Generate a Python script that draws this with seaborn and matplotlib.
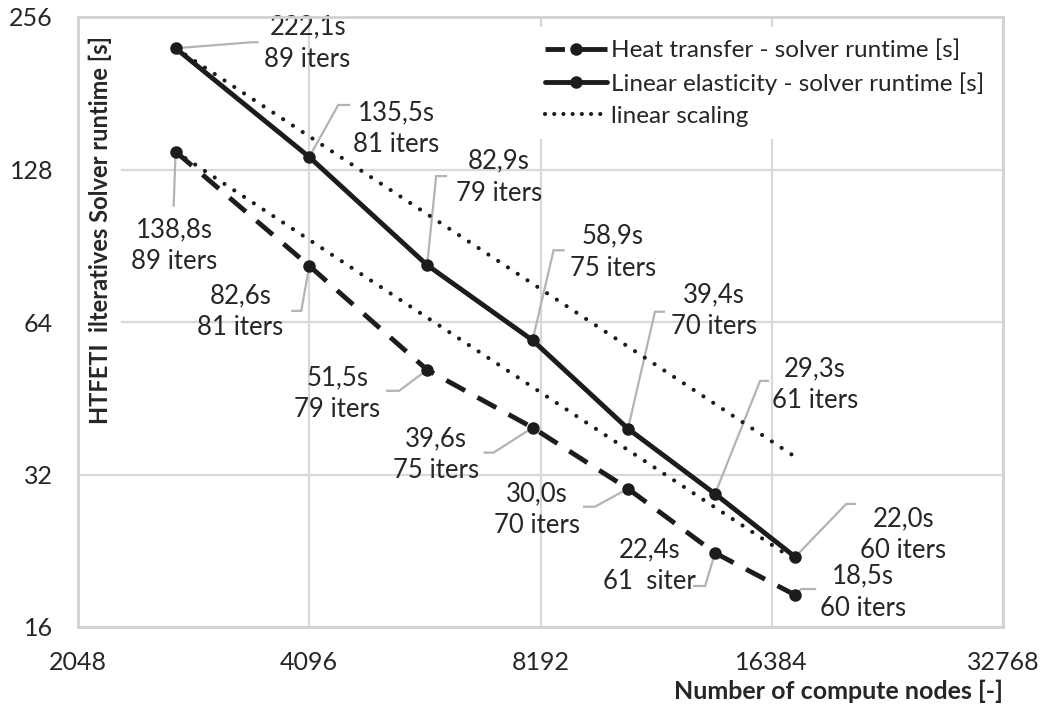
import matplotlib
matplotlib.use("Agg")
import matplotlib.pyplot as plt
from matplotlib.lines import Line2D
import numpy as np
import pandas as pd
import seaborn as sns

# ---- data -------------------------------------------------------------
nodes = [2744, 4096, 5832, 8000, 10648, 13824, 17576]

heat_runtime = [138.8, 82.6, 51.5, 39.6, 30.0, 22.4, 18.5]
heat_iters = ["89 iters", "81 iters", "79 iters", "75 iters", "70 iters", "61  siter", "60 iters"]

elast_runtime = [222.1, 135.5, 82.9, 58.9, 39.4, 29.3, 22.0]
elast_iters = ["89 iters", "81 iters", "79 iters", "75 iters", "70 iters", "61 iters", "60 iters"]

x_ticks = [2048, 4096, 8192, 16384, 32768]
y_ticks = [16, 32, 64, 128, 256]

series_names = ["Heat transfer - solver runtime [s]",
                "Linear elasticity - solver runtime [s]",
                "linear scaling"]

# ideal (linear) scaling from the smallest run of each problem
nodes_arr = np.array(nodes, dtype=float)
heat_ideal = heat_runtime[0] * nodes_arr[0] / nodes_arr
elast_ideal = elast_runtime[0] * nodes_arr[0] / nodes_arr

df = pd.DataFrame({
    "nodes": nodes * 4,
    "runtime": list(heat_runtime) + list(elast_runtime) + list(heat_ideal) + list(elast_ideal),
    "curve": ["heat"] * 7 + ["elast"] * 7 + ["heat_ideal"] * 7 + ["elast_ideal"] * 7,
})

# ---- style ------------------------------------------------------------
sns.set_style("white")
plt.rcParams["font.family"] = ["Lato", "DejaVu Sans"]
TXT = "#262626"
INK = "#1c1c1c"
GRID = "#d9d9d9"
LEAD = "#b3b3b3"

fig = plt.figure(figsize=(10.46, 7.10), dpi=100)
W, H = 1046, 710
L, R, T, B = 78, 1003, 17, 627
ax = fig.add_axes([L / W, (H - B) / H, (R - L) / W, (B - T) / H])

ax.set_xscale("log", base=2)
ax.set_yscale("log", base=2)
ax.set_xlim(x_ticks[0], x_ticks[-1])
ax.set_ylim(y_ticks[0], y_ticks[-1])

ax.grid(True, color=GRID, lw=1.6, zorder=0)
ax.set_axisbelow(True)
for s in ax.spines.values():
    s.set_color("#d2d2d2")
    s.set_linewidth(2)
    s.set_zorder(8)

# ---- curves -----------------------------------------------------------
dotted = dict(color=INK, lw=3.0, linestyle=(0, (0.01, 2.8)),
              dash_capstyle="round", zorder=3)
sns.lineplot(data=df[df.curve == "elast_ideal"], x="nodes", y="runtime",
             ax=ax, estimator=None, sort=False, legend=False, **dotted)
sns.lineplot(data=df[df.curve == "heat_ideal"], x="nodes", y="runtime",
             ax=ax, estimator=None, sort=False, legend=False, **dotted)
sns.lineplot(data=df[df.curve == "heat"], x="nodes", y="runtime", ax=ax,
             estimator=None, sort=False, legend=False, color=INK, lw=3.5,
             linestyle=(0, (4.4, 2.9)), marker="o", markersize=9,
             markeredgewidth=0, zorder=4)
sns.lineplot(data=df[df.curve == "elast"], x="nodes", y="runtime", ax=ax,
             estimator=None, sort=False, legend=False, color=INK, lw=3.5,
             marker="o", markersize=9, markeredgewidth=0, zorder=4)

# ---- axes text --------------------------------------------------------
ax.set_xticks(x_ticks)
ax.set_xticklabels([str(v) for v in x_ticks])
ax.set_yticks(y_ticks)
ax.set_yticklabels([str(v) for v in y_ticks])
ax.minorticks_off()
ax.tick_params(axis="both", length=0, labelsize=18, labelcolor=TXT)
ax.tick_params(axis="x", pad=17)
ax.tick_params(axis="y", pad=18)

ax.set_ylabel("")
ax.set_xlabel("Number of compute nodes [-]", loc="right", fontsize=18,
              fontweight="bold", color=TXT, labelpad=4)
ax.text(0.0238, 0.651, "HTFETI  ilteratives Solver runtime [s]", transform=ax.transAxes,
        rotation=90, ha="center", va="center", fontsize=17, fontweight="bold",
        color=TXT, zorder=6,
        bbox=dict(fc="white", ec="none", boxstyle="square,pad=0.4"))

# ---- legend -----------------------------------------------------------
handles = [
    Line2D([], [], color=INK, lw=3.5, linestyle=(0, (4.0, 2.6, 30, 1)), marker="o",
           markersize=9, markeredgewidth=0),
    Line2D([], [], color=INK, lw=3.5, marker="o", markersize=9, markeredgewidth=0),
    Line2D([], [], color=INK, lw=3.0, linestyle=(0, (0.01, 2.2)), dash_capstyle="round"),
]
leg = ax.legend(handles, series_names, loc="upper left",
                bbox_to_anchor=(0.479, 1.003), frameon=True, fontsize=17.5,
                handlelength=2.55, handletextpad=0.15, labelspacing=0.45,
                borderpad=0.5, fancybox=False)
leg.get_frame().set_facecolor("white")
leg.get_frame().set_edgecolor("none")
leg.get_frame().set_alpha(1)
leg.set_zorder(7)
for t in leg.get_texts():
    t.set_color(TXT)

# ---- value callouts ---------------------------------------------------
# (text centre offset, leader bend offset, horizontal hook) in pixels,
# measured right / down from each marker
elast_layout = [((132, -5), (76, -6), 7), ((87, -28), (29, -52), 12),
                ((72, -88), (9, -89), 11), ((80, -88), (21, -90), 11),
                ((86, -118), (27, -117), 10), ((100, -109), (45, -113), 9),
                ((108, -22), (51, -53), 10)]
heat_layout = [((-1, 94), (-2, 55), 0), ((-69, 46), (-8, 45), -10),
               ((-90, 24), (-28, 21), -13), ((-97, 27), (-39, 25), -10),
               ((-91, 21), (-33, 18), -12), ((-66, 13), (-10, 33), -12),
               ((68, -3), (6, -6), 15)]


def fmt(v):
    return f"{v:.1f}s".replace(".", ",")


def callouts(values, iters, layout):
    for x, y, it, ((tx, ty), (bx, by), hook) in zip(nodes, values, iters, layout):
        p = ax.transData.transform((x, y))
        verts = np.array([p, p + (bx, -by), p + (bx + hook, -by)])
        d = ax.transData.inverted().transform(verts)
        ax.plot(d[:, 0], d[:, 1], color=LEAD, lw=1.6, zorder=2,
                solid_capstyle="butt", solid_joinstyle="miter")
        ax.annotate(f"{fmt(y)}\n{it}", xy=(x, y), xytext=(tx, -ty),
                    textcoords="offset pixels", ha="center", va="center",
                    fontsize=18.5, color=TXT, linespacing=1.35, zorder=5)


callouts(elast_runtime, elast_iters, elast_layout)
callouts(heat_runtime, heat_iters, heat_layout)

fig.savefig("out.png", dpi=100)
